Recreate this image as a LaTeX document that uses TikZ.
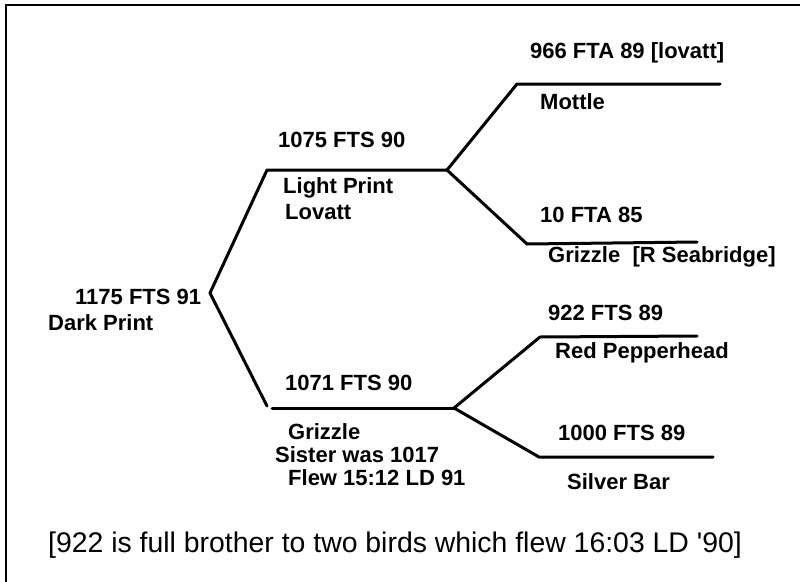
\documentclass[tikz,border=0pt]{standalone}
\usepackage{fontspec}
\setmainfont{Liberation Sans}
\usetikzlibrary{positioning}
\tikzset{
  lbl/.style={anchor=west, inner sep=0pt, font=\bfseries\fontsize{22}{24}\selectfont},
  note/.style={anchor=west, inner sep=0pt, font=\fontsize{28.4}{32}\selectfont},
  branch/.style={line width=3pt, line join=round, line cap=round},
  frame/.style={line width=2pt},
}
\begin{document}
\begin{tikzpicture}[x=1pt, y=-1pt]
    \useasboundingbox (0,0) rectangle (800,581);
    \draw[frame] (6,590) -- (6,5) -- (810,5);
    % branch points
    \coordinate (root) at (210,293);
    \coordinate (sire1) at (267,170);
    \coordinate (sire2) at (447,170);
    \coordinate (dam1) at (267,406);
    \coordinate (dam1s) at (272,408);
    \coordinate (dam2) at (454,408);
    \coordinate (ss1) at (517,84);
    \coordinate (ss2) at (720,84);
    \coordinate (sd1) at (527,244);
    \coordinate (sd2) at (697,242);
    \coordinate (ds1) at (540,337);
    \coordinate (ds2) at (697,336);
    \coordinate (dd1) at (539,457);
    \coordinate (dd2) at (713,457);
    \draw[branch] (root) -- (sire1) -- (sire2);
    \draw[branch] (root) -- (dam1);
    \draw[branch] (dam1s) -- (dam2);
    \draw[branch] (sire2) -- (ss1) -- (ss2);
    \draw[branch] (sire2) -- (sd1) -- (sd2);
    \draw[branch] (dam2) -- (ds1) -- (ds2);
    \draw[branch] (dam2) -- (dd1) -- (dd2);
    % labels
    \node[lbl] (bird) at (75,297) {1175 FTS 91};
    \node[lbl] (birdc) at (48,323) {Dark Print};
    \node[lbl] (sire) at (278,140) {1075 FTS 90};
    \node[lbl] (sirec) at (283,188) {Light Print};
    \node[lbl] (sireb) at (285,212) {Lovatt};
    \node[lbl] (dam) at (285,383) {1071 FTS 90};
    \node[lbl] (damc) at (288,432) {Grizzle};
    \node[lbl] (damn) at (275,455) {Sister was 1017};
    \node[lbl] (damf) at (288,478) {Flew 15:12 LD 91};
    \node[lbl] (gss) at (530,53) {966 FTA 89 [lovatt]};
    \node[lbl] (gssc) at (540,102) {Mottle};
    \node[lbl] (gsd) at (540,215) {10 FTA 85};
    \node[lbl] (gsdc) at (548,257) {Grizzle\ \ [R Seabridge]};
    \node[lbl] (gds) at (548,313) {922 FTS 89};
    \node[lbl] (gdsc) at (555,353) {Red Pepperhead};
    \node[lbl] (gdd) at (558,433) {1000 FTS 89};
    \node[lbl] (gddc) at (567,482) {Silver Bar};
    \node[note] (remark) at (48,545) {[922 is full brother to two birds which flew 16:03 LD \textquotesingle 90]};
  \end{tikzpicture}
\end{document}
